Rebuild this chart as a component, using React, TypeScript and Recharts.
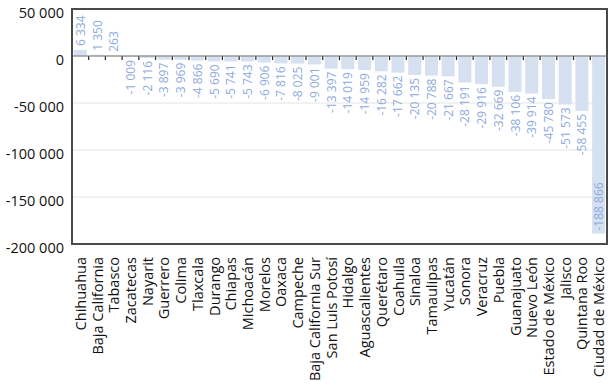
import React from 'react';
import * as R from 'recharts';
import { BarChart, Bar, XAxis, YAxis, CartesianGrid, ReferenceLine, LabelList } from 'recharts';

const states = [
  'Chihuahua', 'Baja California', 'Tabasco', 'Zacatecas', 'Nayarit', 'Guerrero', 'Colima', 'Tlaxcala',
  'Durango', 'Chiapas', 'Michoacán', 'Morelos', 'Oaxaca', 'Campeche', 'Baja California Sur', 'San Luis Potosí',
  'Hidalgo', 'Aguascalientes', 'Querétaro', 'Coahuila', 'Sinaloa', 'Tamaulipas', 'Yucatán', 'Sonora',
  'Veracruz', 'Puebla', 'Guanajuato', 'Nuevo León', 'Estado de México', 'Jalisco', 'Quintana Roo', 'Ciudad de México',
];

const values = [
  6334, 1350, 263, -1009, -2116, -3897, -3969, -4866,
  -5690, -5741, -5743, -6906, -7816, -8025, -9001, -13397,
  -14019, -14959, -16282, -17662, -20135, -20788, -21667, -28191,
  -29916, -32669, -38106, -39914, -45780, -51573, -58455, -188866,
];

const yTicks = [50000, 0, -50000, -100000, -150000, -200000];
const yDomain = [-200000, 50000];

const data = states.map((name, i) => ({ name, value: values[i] }));

const FONT = '"Open Sans", sans-serif';
const GAP = 0.11;

const fmt = (v: number) => {
  const s = Math.abs(v).toString().replace(/\B(?=(\d{3})+(?!\d))/g, ' ');
  return (v < 0 ? '-' : '') + s;
};

const Frame = () => {
  const hook = (R as any).usePlotArea;
  const area = hook ? hook() : null;
  if (!area) return null;
  return (
    <rect
      x={area.x}
      y={area.y}
      width={area.width}
      height={area.height}
      fill="none"
      stroke="#4a4a4a"
      strokeWidth={1.3}
      shapeRendering="crispEdges"
    />
  );
};

const BarShape = (props: any) => {
  const { x, y, width, height, index, payload } = props;
  const top = Math.min(y, y + height);
  const bottom = Math.max(y, y + height);
  const zeroY = payload.value >= 0 ? bottom : top;
  const tickX = x + width + (width * GAP) / (1 - 2 * GAP);
  return (
    <g>
      <rect x={x} y={top} width={width} height={bottom - top} fill="#d5e0f1" />
      {index < states.length - 1 && (
        <line x1={tickX} x2={tickX} y1={zeroY} y2={zeroY + 4} stroke="#222" strokeWidth={1.2} />
      )}
    </g>
  );
};

const ValueLabel = (props: any) => {
  const { x, y, width, height, value } = props;
  const top = Math.min(y, y + height);
  const bottom = Math.max(y, y + height);
  const cx = x + width / 2;
  let ty: number;
  let anchor: string;
  if (value >= 0) {
    ty = top - 4;
    anchor = 'start';
  } else if (value < -150000) {
    ty = bottom - 3;
    anchor = 'start';
  } else {
    ty = bottom + 3;
    anchor = 'end';
  }
  return (
    <text
      x={cx}
      y={ty}
      transform={`rotate(-90, ${cx}, ${ty})`}
      textAnchor={anchor}
      dominantBaseline="central"
      fill="#8eaadb"
      fontSize={12}
      fontFamily={FONT}
    >
      {fmt(value)}
    </text>
  );
};

const XTick = (props: any) => {
  const { x, y, payload } = props;
  const ty = y + 5;
  return (
    <text
      x={x}
      y={ty}
      transform={`rotate(-90, ${x}, ${ty})`}
      textAnchor="end"
      dominantBaseline="central"
      fill="#111"
      fontSize={14.5}
      fontFamily={FONT}
    >
      {payload.value}
    </text>
  );
};

const YTick = (props: any) => {
  const { x, y, payload } = props;
  return (
    <text x={x} y={y + 3} textAnchor="end" dominantBaseline="central" fill="#111" fontSize={14.5} fontFamily={FONT}>
      {fmt(payload.value)}
    </text>
  );
};

export default function App() {
  return (
    <div style={{ position: 'absolute', left: 0, top: 0, background: '#fff' }}>
      <BarChart
        width={612}
        height={387}
        data={data}
        margin={{ top: 9, right: 5, bottom: 0, left: 0 }}
        barCategoryGap="11%"
      >
        <CartesianGrid horizontal vertical={false} stroke="#e4e4e4" />
        <XAxis
          dataKey="name"
          interval={0}
          height={143}
          axisLine={{ stroke: '#4a4a4a', strokeWidth: 1.3, shapeRendering: 'crispEdges' }}
          tickLine={false}
          tick={<XTick />}
        />
        <YAxis
          domain={yDomain}
          ticks={yTicks}
          width={72}
          axisLine={{ stroke: '#4a4a4a', strokeWidth: 1.3, shapeRendering: 'crispEdges' }}
          tickLine={false}
          tick={<YTick />}
        />
        <ReferenceLine y={0} stroke="#777" />
        <Bar dataKey="value" isAnimationActive={false} shape={BarShape}>
          <LabelList dataKey="value" content={ValueLabel} />
        </Bar>
        <Frame />
      </BarChart>
    </div>
  );
}
